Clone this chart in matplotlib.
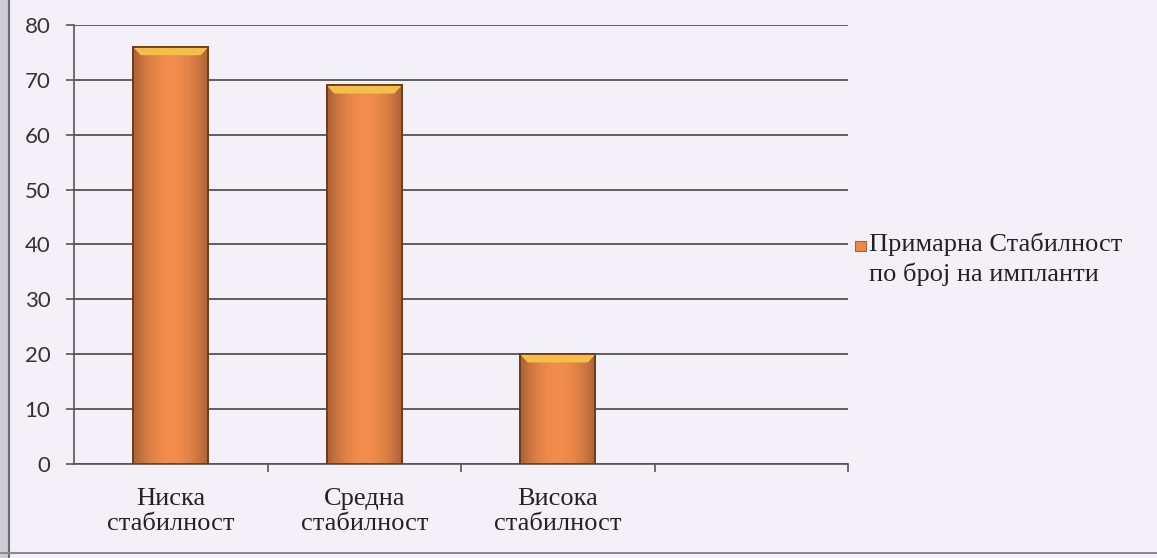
import numpy as np
import matplotlib.pyplot as plt
from matplotlib.patches import Polygon, Rectangle
from matplotlib.lines import Line2D

categories = ["Ниска\nстабилност", "Средна\nстабилност", "Висока\nстабилност"]
values = [76, 69, 20]
series_name = "Примарна Стабилност\nпо број на импланти"
y_ticks = [0, 10, 20, 30, 40, 50, 60, 70, 80]

W, H = 1157, 558
page = "#f4f0f7"

fig = plt.figure(figsize=(W / 100, H / 100), dpi=100, facecolor=page)
ax = fig.add_axes([74 / W, 1 - 464 / H, 774 / W, 439 / H])
ax.set_facecolor("none")

x = np.arange(len(categories))
bar_w = 0.39
bars = ax.bar(x, values, width=bar_w, color="#ec8a4a", edgecolor="#6e3a1a",
              linewidth=1.3, zorder=3)

# horizontal shading inside each bar (darker towards the sides)
shade = np.linspace(-1, 1, 64)
shade = 1 - 0.3 * shade ** 2
grad = np.dstack([0.95 * shade, 0.55 * shade, 0.3 * shade])
for b in bars:
    x0, w, h = b.get_x(), b.get_width(), b.get_height()
    im = ax.imshow(grad, extent=[x0, x0 + w, 0, h], aspect="auto",
                   zorder=3.5, interpolation="bicubic")
    im.set_clip_path(b)
    # bevelled top face
    bh, dx = 1.5, 0.04
    top = Polygon([[x0, h], [x0 + w, h], [x0 + w - dx, h - bh], [x0 + dx, h - bh]],
                  closed=True, facecolor="#f4bf48", edgecolor="none", zorder=4)
    ax.add_patch(top)
    ax.add_patch(Rectangle((x0, 0), w, h, facecolor="none", edgecolor="#6e3a1a",
                           linewidth=1.3, zorder=5))

ax.set_xlim(-0.5, 3.5)
ax.set_ylim(0, 80)
ax.set_yticks(y_ticks)
ax.yaxis.grid(True, color="#454545", linewidth=1.2)
ax.set_axisbelow(True)

for s in ["top", "right"]:
    ax.spines[s].set_visible(False)
for s in ["left", "bottom"]:
    ax.spines[s].set_color("#555555")
    ax.spines[s].set_linewidth(1.2)

ax.tick_params(axis="y", direction="out", length=6, width=1.2, color="#555555",
               pad=11, labelsize=16, labelcolor="#333333")
for t in ax.get_yticklabels():
    t.set_fontfamily("Lato")

# category boundaries get tick marks, category names sit between them
ax.set_xticks([0.5, 1.5, 2.5, 3.5])
ax.set_xticklabels([])
ax.tick_params(axis="x", which="major", direction="out", length=6, width=1.2,
               color="#555555")
ax.set_xticks(x, minor=True)
ax.set_xticklabels(categories, minor=True, fontfamily="Liberation Serif",
                   fontsize=19, color="#222222", linespacing=1.2)
ax.tick_params(axis="x", which="minor", length=0, pad=17)

# legend entry
fig.patches.append(Rectangle((855 / W, 1 - 251 / H), 11 / W, 10 / H,
                             transform=fig.transFigure, facecolor="#ec8a4a",
                             edgecolor="#9a6a3a", linewidth=0.8))
fig.text(869 / W, 1 - 233 / H, series_name, ha="left", va="top",
         fontfamily="Liberation Serif", fontsize=19, color="#222222",
         linespacing=1.3)

# page edge and bottom rule of the scanned page
fig.patches.append(Rectangle((0, 0), 9 / W, 1, transform=fig.transFigure,
                             facecolor="#cfcdd4", edgecolor="none"))
fig.lines.append(Line2D([9 / W, 9 / W], [0, 1], transform=fig.transFigure,
                        color="#6a6a70", linewidth=1.5))
fig.lines.append(Line2D([0, 1], [1 - 553 / H, 1 - 553 / H], transform=fig.transFigure,
                        color="#8a8a90", linewidth=1.5))

fig.savefig("out.png", dpi=100, facecolor=page)
